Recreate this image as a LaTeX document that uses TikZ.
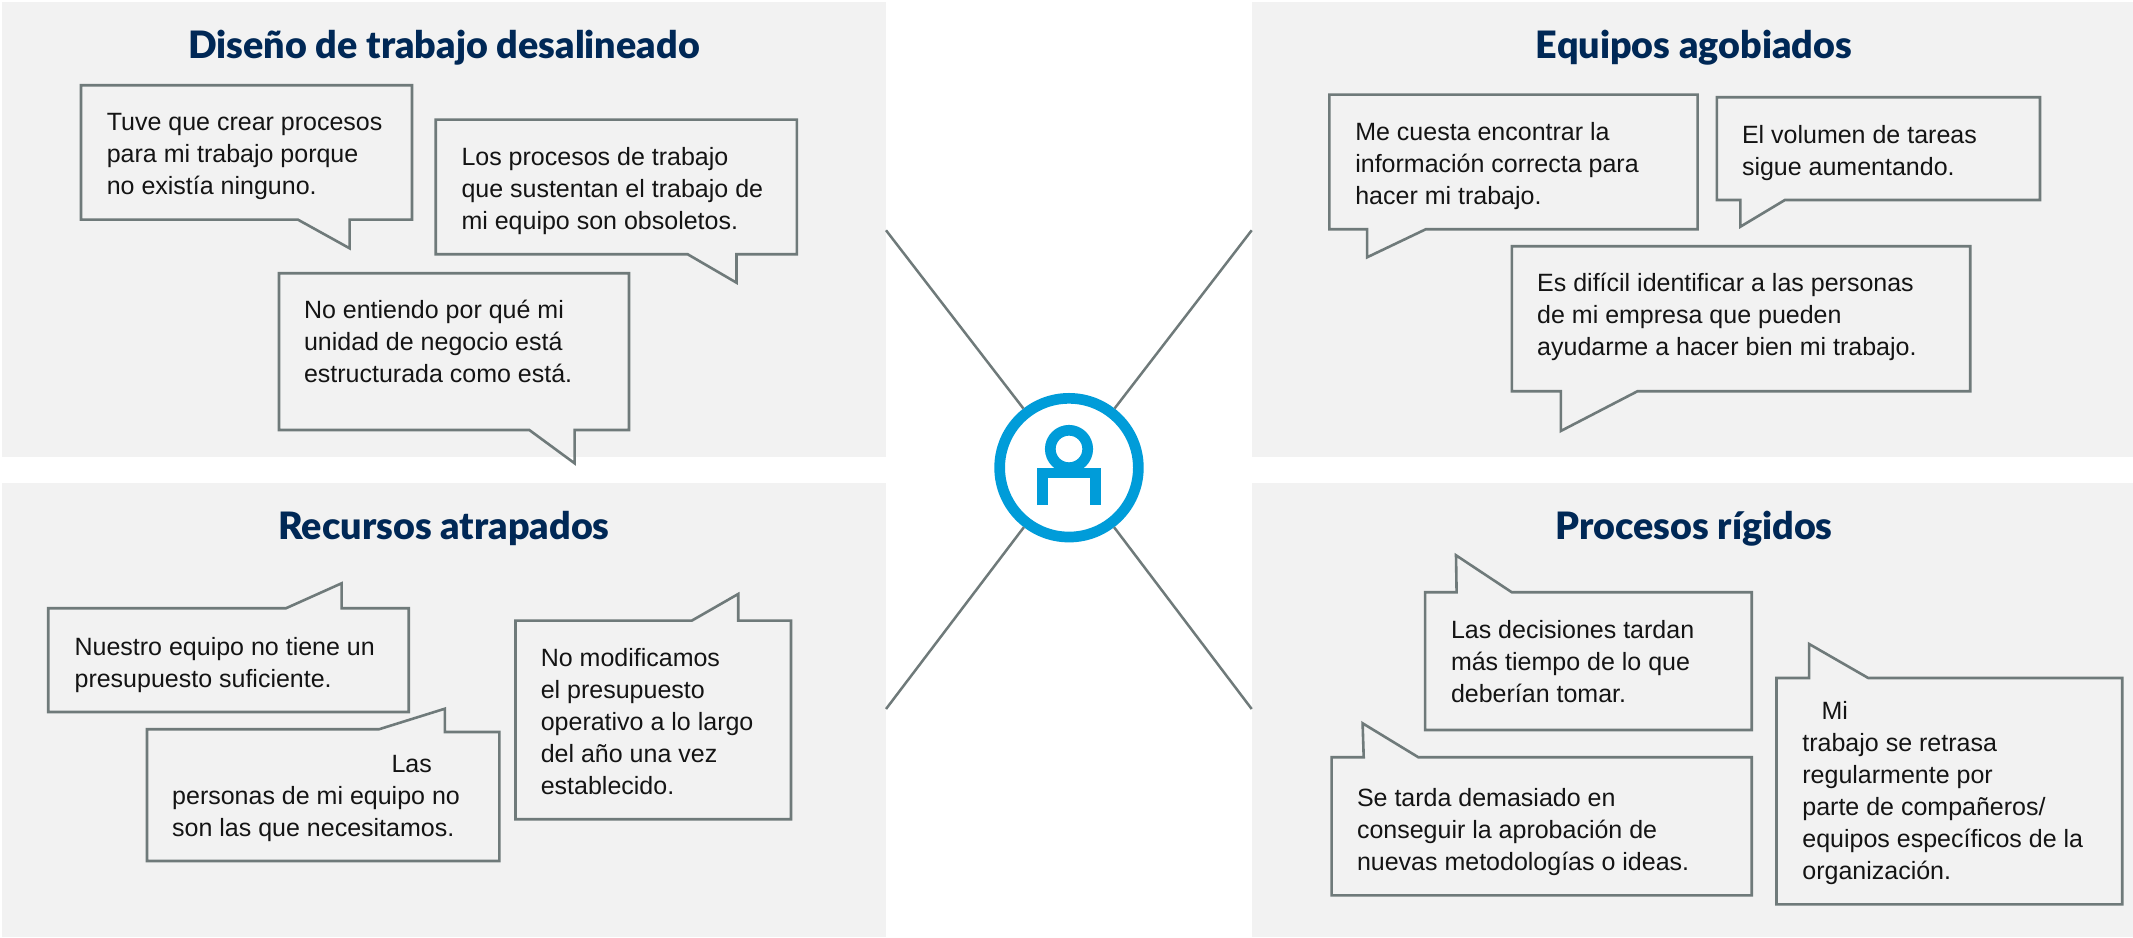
\documentclass[tikz,border=0pt]{standalone}
\usepackage{fontspec}
\setmainfont{Liberation Sans}
\newfontface\headfont{Lato Black}
\usetikzlibrary{shapes.geometric}
\begin{document}
\begin{tikzpicture}[x=1pt,y=1pt,
  panel/.style={fill=panelColor},
  bubble/.style={draw=edgeColor,line width=2.6pt,miter limit=10},
  heading/.style={text=headColor,anchor=base,inner sep=0pt,outer sep=0pt,font=\headfont\fontsize{37.7}{38}\selectfont},
  quote/.style={text=textColor,anchor=base west,align=left,inner sep=0pt,outer sep=0pt,font=\fontsize{25}{32}\selectfont},
  spoke/.style={draw=edgeColor,line width=2.5pt},
  icon/.style={draw=ringColor,line width=10.7pt}]
\definecolor{panelColor}{RGB}{242,242,242}
\definecolor{edgeColor}{RGB}{111,122,122}
\definecolor{headColor}{RGB}{0,40,86}
\definecolor{textColor}{RGB}{20,20,20}
\definecolor{ringColor}{RGB}{0,156,217}
\path[use as bounding box,fill=white] (0,0) rectangle (2133,937);

\path[panel] (2,480.3) rectangle (886,935);
\path[panel] (1252,480.3) rectangle (2133,935);
\path[panel] (2,0) rectangle (886,454);
\path[panel] (1252,0) rectangle (2133,454);

\node[heading] (headDesign) at (444,878.3) {Diseño de trabajo desalineado};
\node[heading] (headTeams) at (1694,878.3) {Equipos agobiados};
\node[heading] (headMoney) at (444,397) {Recursos atrapados};
\node[heading] (headRigid) at (1694,397) {Procesos rígidos};

\path[bubble] (81,851.7) -- (412,851.7) -- (412,717.3) -- (349.6,717.3) -- (349.6,688.7) --
	(298,717.3) -- (81,717.3) -- cycle;
\node[quote] (quoteCreate) at (106.8,742.4) {Tuve que crear procesos\\para mi trabajo porque\\no existía ninguno.};

\path[bubble] (435.7,817.3) -- (796.8,817.3) -- (796.8,682.7) -- (736.5,682.7) -- (736.5,654.3) --
	(687.7,682.7) -- (435.7,682.7) -- cycle;
\node[quote] (quoteOld) at (461.5,707.7) {Los procesos de trabajo\\que sustentan el trabajo de\\mi equipo son obsoletos.};

\path[bubble] (279,663.7) -- (629,663.7) -- (629,507) -- (574.6,507) -- (574.6,473.7) --
	(529.3,507) -- (279,507) -- cycle;
\node[quote] (quoteUnit) at (304,554.4) {No entiendo por qué mi\\unidad de negocio está\\estructurada como está.};

\path[bubble] (1329.4,842.3) -- (1697.6,842.3) -- (1697.6,707.7) -- (1425.7,707.7) -- (1367.1,679.7) --
	(1367.1,707.7) -- (1329.4,707.7) -- cycle;
\node[quote] (quoteFind) at (1355.3,732.4) {Me cuesta encontrar la\\información correcta para\\hacer mi trabajo.};

\path[bubble] (1716.8,839.7) -- (2040,839.7) -- (2040,737) -- (1784.9,737) -- (1740.4,710.3) --
	(1740.4,737) -- (1716.8,737) -- cycle;
\node[quote] (quoteLoad) at (1742,761.7) {El volumen de tareas\\sigue aumentando.};

\path[bubble] (1511.8,690.7) -- (1970.2,690.7) -- (1970.2,545.7) -- (1637.4,545.7) -- (1560.8,506) --
	(1560.8,545.7) -- (1511.8,545.7) -- cycle;
\node[quote] (quotePeople) at (1537.2,581) {Es difícil identificar a las personas\\de mi empresa que pueden\\ayudarme a hacer bien mi trabajo.};

\path[bubble] (48.2,328.7) -- (285.9,328.7) -- (341.6,353.7) -- (341.6,328.7) -- (408.7,328.7) --
	(408.7,225) -- (48.2,225) -- cycle;
\node[quote] (quoteBudget) at (74.6,249.7) {Nuestro equipo no tiene un\\presupuesto suficiente.};

\path[bubble] (147,207.7) -- (378.9,207.7) -- (444.9,228.3) -- (444.9,205) -- (499.4,205) --
	(499.4,76) -- (147,76) -- cycle;
\node[quote] (quoteStaff) at (172.2,100.4) {\hspace*{219.3pt}Las\\personas de mi equipo no\\son las que necesitamos.};

\path[bubble] (515.5,316.3) -- (691.7,316.3) -- (738.2,343) -- (738.2,316.3) -- (791,316.3) --
	(791,117.7) -- (515.5,117.7) -- cycle;
\node[quote] (quoteFixed) at (540.8,142.4) {No modificamos\\el presupuesto\\operativo a lo largo\\del año una vez\\establecido.};

\path[bubble] (1425.1,344.7) -- (1456.6,344.7) -- (1456,381.7) -- (1511.8,344.7) -- (1751.7,344.7) --
	(1751.7,207) -- (1425.1,207) -- cycle;
\node[quote] (quoteSlow) at (1451,234.4) {Las decisiones tardan\\más tiempo de lo que\\deberían tomar.};

\path[bubble] (1331.6,179.7) -- (1363.7,179.7) -- (1362.6,213.7) -- (1418.4,179.7) -- (1751.7,179.7) --
	(1751.7,41.7) -- (1331.6,41.7) -- cycle;
\node[quote] (quoteApprove) at (1357,66.4) {Se tarda demasiado en\\conseguir la aprobación de\\nuevas metodologías o ideas.};

\path[bubble] (1776.5,259) -- (1809.1,259) -- (1809.1,293) -- (1868.2,259) -- (2122.2,259) --
	(2122.2,32.7) -- (1776.5,32.7) -- cycle;
\node[quote] (quoteDelay) at (1802.4,57.7) {\hspace*{19.1pt}Mi\\trabajo se retrasa\\regularmente por\\parte de compañeros/\\equipos específicos de la\\organización.};

\node[shape=ellipse,icon,inner sep=0pt,minimum width=138.7pt,minimum height=138.7pt] (hub) at (1069,469.3) {};
\coordinate (endNW) at (886,706.7);
\coordinate (endNE) at (1251.7,706.7);
\coordinate (endSW) at (886,228);
\coordinate (endSE) at (1251.7,228);
\draw[spoke] (hub) -- (endNW);
\draw[spoke] (hub) -- (endNE);
\draw[spoke] (hub) -- (endSW);
\draw[spoke] (hub) -- (endSE);

\path[icon] (1069,488) circle (18.7);
\path[icon] (1042.3,431.9) -- (1042.3,464.1) -- (1095.7,464.1) -- (1095.7,431.9);
\end{tikzpicture}
\end{document}
